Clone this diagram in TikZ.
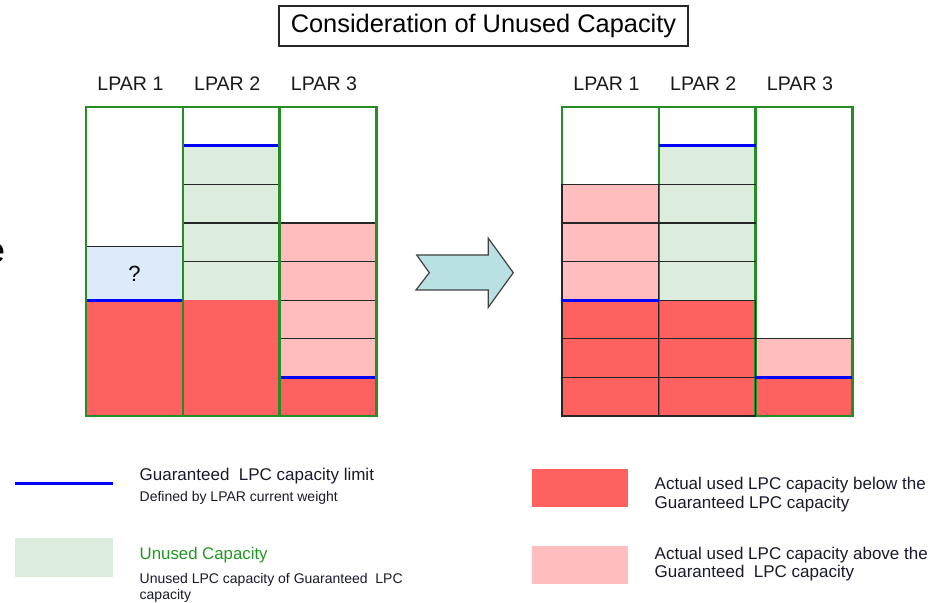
\documentclass[tikz,border=0pt]{standalone}
\usepackage{fontspec}
\setmainfont{Liberation Sans}
\usepackage{tikz}
\usetikzlibrary{calc}
\definecolor{usedlow}{RGB}{255,96,96}
\definecolor{usedhigh}{RGB}{255,189,189}
\definecolor{unusedgreen}{RGB}{221,237,221}
\definecolor{askblue}{RGB}{221,234,250}
\definecolor{lpargreen}{RGB}{38,140,38}
\definecolor{arrowcyan}{RGB}{185,224,226}
\definecolor{legendink}{RGB}{25,25,45}
\tikzset{
 lparcol/.style={draw=lpargreen, line width=1.2pt},
 guarantee/.style={draw=blue, line width=1.5pt},
 cellline/.style={draw=black!85, line width=0.6pt},
 lparlabel/.style={anchor=base, inner sep=0, text=black!90, font=\fontsize{9.8}{11}\selectfont},
 legendtext/.style={anchor=base west, inner sep=0, text=legendink, align=left},
}

\begin{document}
\begin{tikzpicture}[x=0.5pt,y=-0.5pt]
\useasboundingbox (0,0) rectangle (944,603);
\node[draw=black!85, line width=0.6pt, minimum width=204.5pt, minimum height=20pt, inner sep=0,
 font=\fontsize{12.7}{15}\selectfont] (title) at (483.5,26) {Consideration of Unused Capacity};
\node[anchor=base east, inner sep=0, font=\fontsize{17.5}{20}\selectfont] (cut) at (5.5,263) {e};
\fill[askblue] (86,246.7) rectangle (182.8,300.2);
\fill[usedlow] (86,300.2) rectangle (279.6,416);
\fill[unusedgreen] (182.8,145.8) rectangle (279.6,300.2);
\fill[usedhigh] (279.6,223) rectangle (376.4,377.4);
\fill[usedlow] (279.6,377.4) rectangle (376.4,416);
\draw[cellline] (86,246.7) --++(96.8,0);
\foreach \k in {4,5,6} \draw[cellline] (182.8,{416-38.6*\k}) --++(96.8,0);
\foreach \k in {2,3,4,5} \draw[cellline] (279.6,{416-38.6*\k}) --++(96.8,0);
\draw[guarantee] (86,300.2) --++(96.8,0);
\draw[guarantee] (182.8,145.8) --++(96.8,0);
\draw[guarantee] (279.6,377.4) --++(96.8,0);
\node[inner sep=0, anchor=base, font=\fontsize{11}{13}\selectfont] (ask) at (134.4,281.7) {?};
\fill[usedhigh] (562,184.4) rectangle (658.8,300.2);
\fill[unusedgreen] (658.8,145.8) rectangle (755.6,300.2);
\fill[usedlow] (562,300.2) rectangle (755.6,416);
\fill[usedhigh] (755.6,338.8) rectangle (852.4,377.4);
\fill[usedlow] (755.6,377.4) rectangle (852.4,416);
\foreach \x in {0,1,2} {
 \draw[lparcol] ({86+96.8*\x},107.2) rectangle ++(96.8,308.8);
 \draw[lparcol] ({562+96.8*\x},107.2) rectangle ++(96.8,308.8);
}
\foreach \c [evaluate=\c as \cx using {86+96.8*\c-52.4}] in {1,2,3} {
 \node[lparlabel] (lpar\c) at (\cx,90.7) {LPAR \c};
 \node[lparlabel] (newlpar\c) at (\cx+476,90.7) {LPAR \c};
}
\foreach \k in {0,...,5} \draw[cellline] (562,{416-38.6*\k}) rectangle ++(96.8,-38.6);
\foreach \k in {0,1,2} \draw[cellline] (658.8,{416-38.6*\k}) rectangle ++(96.8,-38.6);
\foreach \k in {4,5,6} \draw[cellline] (658.8,{416-38.6*\k}) --++(96.8,0);
\draw[cellline] (755.6,338.8) --++(96.8,0);
\draw[guarantee] (562,300.2) --++(96.8,0);
\draw[guarantee] (658.8,145.8) --++(96.8,0);
\draw[guarantee] (755.6,377.4) --++(96.8,0);
\draw[fill=arrowcyan, draw=black!75, line width=0.6pt] (416.7,255) -- (429.3,272.7) -- (416,290)
 -- (488.3,290) -- (488.3,307.3) -- (513.3,272.7) -- (488.3,238.3) -- (488.3,255) -- cycle;
\draw[guarantee] (15,483.7) --++(97.7,0);
\fill[unusedgreen] (15,537.7) rectangle (112.7,576.7);
\fill[usedlow] (531.7,469) rectangle (628.3,506.7);
\fill[usedhigh] (531.7,546) rectangle (628.3,584);
\node[legendtext, font=\fontsize{8.5}{10}\selectfont] (limit) at (139.3,481) {Guaranteed\ \ LPC capacity limit};
\node[legendtext, font=\fontsize{7}{8}\selectfont] (weight) at (139.3,501.7) {Defined by LPAR current weight};
\node[legendtext, text=lpargreen!90!green, font=\fontsize{8.4}{10}\selectfont] (unused) at (139.3,559.3) {Unused Capacity};
\node[legendtext, font=\fontsize{7}{8.1}\selectfont] (unuseddef) at (139.3,599.5) {Unused LPC capacity of Guaranteed\ \ LPC\\capacity};
\node[legendtext, font=\fontsize{8.5}{9.2}\selectfont] (below) at (654.3,508.3) {Actual used LPC capacity below the\\Guaranteed LPC capacity};
\node[legendtext, font=\fontsize{8.5}{9.2}\selectfont] (above) at (654.3,577.7) {Actual used LPC capacity above the\\Guaranteed\ \ LPC capacity};
\end{tikzpicture}
\end{document}
